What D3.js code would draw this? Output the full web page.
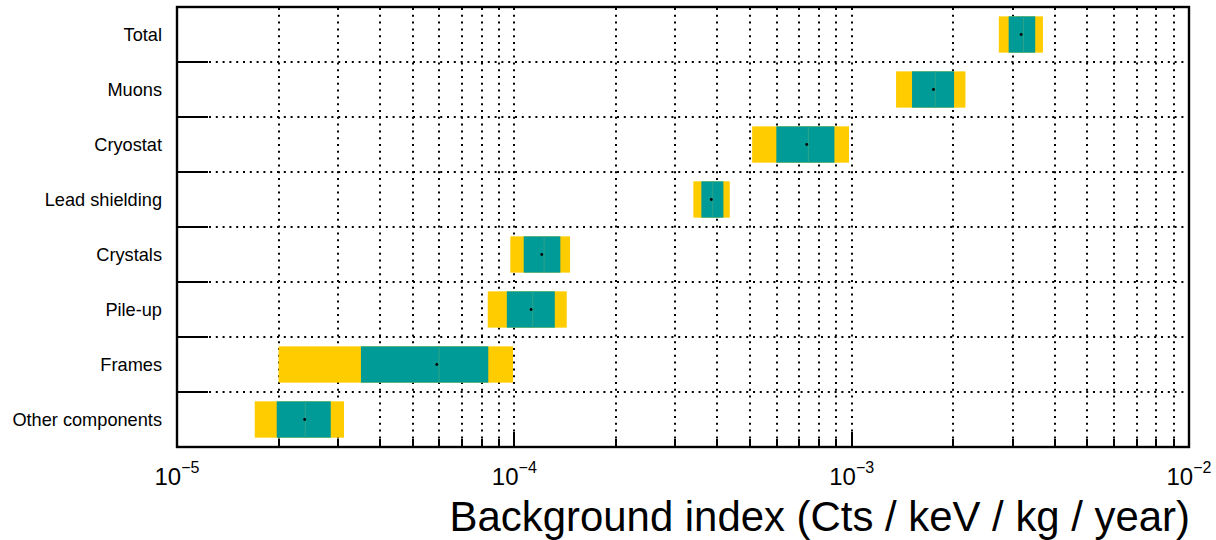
<!DOCTYPE html>
<html>
<head>
<meta charset="utf-8">
<script src="https://cdn.jsdelivr.net/npm/d3@7"></script>
<style>
  html, body { margin: 0; padding: 0; background: #fff; }
  svg { display: block; font-family: "Liberation Sans", Arial, sans-serif; }
</style>
</head>
<body>
<svg id="chart" width="1216" height="540"></svg>
<script>
const categories = ["Total", "Muons", "Cryostat", "Lead shielding", "Crystals", "Pile-up", "Frames", "Other components"];
const outerLow  = [2.73e-3, 1.354e-3, 5.07e-4, 3.395e-4, 9.73e-5, 8.34e-5, 2.00e-5, 1.70e-5];
const innerLow  = [2.92e-3, 1.51e-3, 5.98e-4, 3.585e-4, 1.066e-4, 9.50e-5, 3.51e-5, 1.975e-5];
const medianVal = [3.23e-3, 1.768e-3, 7.44e-4, 3.874e-4, 1.225e-4, 1.134e-4, 5.98e-5, 2.40e-5];
const centralVal= [3.18e-3, 1.748e-3, 7.36e-4, 3.837e-4, 1.206e-4, 1.121e-4, 5.89e-5, 2.39e-5];
const innerHigh = [3.50e-3, 2.012e-3, 8.89e-4, 4.166e-4, 1.369e-4, 1.318e-4, 8.37e-5, 2.856e-5];
const outerHigh = [3.69e-3, 2.174e-3, 9.82e-4, 4.352e-4, 1.463e-4, 1.430e-4, 9.91e-5, 3.127e-5];
const majorTicks = [1e-5, 1e-4, 1e-3, 1e-2];
const majorExponents = ["\u22125", "\u22124", "\u22123", "\u22122"];
const xTitle = "Background index (Cts / keV / kg / year)";

const rows = categories.map((c, i) => ({
  cat: c, oLo: outerLow[i], iLo: innerLow[i], med: medianVal[i], cen: centralVal[i], iHi: innerHigh[i], oHi: outerHigh[i]
}));

const L = 177, R = 1189, T = 7, B = 447;
const svg = d3.select("#chart");
const x = d3.scaleLog().domain([1e-5, 1e-2]).range([L, R]);
const y = d3.scaleBand().domain(categories).range([T, B]).padding(0);
const boxH = y.bandwidth() * 0.66;

const allTicks = x.ticks().filter(t => t > 1e-5 * 1.0001 && t < 1e-2 * 0.9999);
const isMajor = t => Math.abs(Math.log10(t) - Math.round(Math.log10(t))) < 1e-6;
const px = v => Math.round(x(v));

// vertical dotted grid
svg.append("g").selectAll("line").data(allTicks).join("line")
  .attr("x1", d => px(d)).attr("x2", d => px(d))
  .attr("y1", T + 1).attr("y2", B)
  .attr("stroke", "#000").attr("stroke-width", 2)
  .attr("stroke-dasharray", "2,4.8");

// horizontal dotted grid at row boundaries
const bounds = categories.slice(1).map(c => y(c));
svg.append("g").selectAll("line").data(bounds).join("line")
  .attr("x1", L + 32).attr("x2", R)
  .attr("y1", d => d).attr("y2", d => d)
  .attr("stroke", "#000").attr("stroke-width", 2)
  .attr("stroke-dasharray", "2,4.8");

// left category ticks
svg.append("g").selectAll("line").data(bounds).join("line")
  .attr("x1", L).attr("x2", L + 31)
  .attr("y1", d => d).attr("y2", d => d)
  .attr("stroke", "#000").attr("stroke-width", 2);

// boxes
const g = svg.append("g");
const cy = d => y(d.cat) + y.bandwidth() / 2;
g.selectAll("rect.outer").data(rows).join("rect").attr("class", "outer")
  .attr("x", d => x(d.oLo)).attr("width", d => x(d.oHi) - x(d.oLo))
  .attr("y", d => cy(d) - boxH / 2).attr("height", boxH)
  .attr("fill", "#ffcc00");
g.selectAll("rect.inner").data(rows).join("rect").attr("class", "inner")
  .attr("x", d => x(d.iLo)).attr("width", d => x(d.iHi) - x(d.iLo))
  .attr("y", d => cy(d) - boxH / 2).attr("height", boxH)
  .attr("fill", "#009a97");
g.selectAll("line.med").data(rows).join("line").attr("class", "med")
  .attr("x1", d => x(d.med)).attr("x2", d => x(d.med))
  .attr("y1", d => cy(d) - boxH / 2).attr("y2", d => cy(d) + boxH / 2)
  .attr("stroke", "#2fa38a").attr("stroke-width", 1);
g.selectAll("circle").data(rows).join("circle")
  .attr("cx", d => x(d.cen)).attr("cy", d => cy(d)).attr("r", 1.4)
  .attr("fill", "#000");

// bottom axis ticks (inward)
const minorAxis = d3.axisBottom(x).tickValues(allTicks.filter(t => !isMajor(t))).tickSize(-8).tickFormat("");
const majorAxis = d3.axisBottom(x).tickValues(allTicks.filter(t => isMajor(t))).tickSize(-15).tickFormat("");
[minorAxis, majorAxis].forEach(ax => {
  const ag = svg.append("g").attr("transform", `translate(0,${B})`).call(ax);
  ag.select(".domain").remove();
  ag.selectAll(".tick").attr("transform", d => `translate(${px(d)},0)`);
  ag.selectAll(".tick line").attr("stroke", "#000").attr("stroke-width", 2);
});

// frame
svg.append("rect").attr("x", L).attr("y", T).attr("width", R - L).attr("height", B - T)
  .attr("fill", "none").attr("stroke", "#000").attr("stroke-width", 2.4);

// category labels
svg.append("g").selectAll("text").data(categories).join("text")
  .attr("x", 162).attr("y", d => y(d) + y.bandwidth() / 2 + 6)
  .attr("text-anchor", "end").attr("font-size", 18.2).attr("fill", "#000")
  .text(d => d);

// tick labels 10^n
const tl = svg.append("g").selectAll("text").data(majorTicks).join("text")
  .attr("x", d => x(d)).attr("y", 485).attr("text-anchor", "middle")
  .attr("font-size", 24).attr("fill", "#000");
tl.append("tspan").text("10");
tl.append("tspan").attr("dy", -12).attr("font-size", 16).text((d, i) => majorExponents[i]);

// axis title
svg.append("text").attr("x", R + 1).attr("y", 531).attr("text-anchor", "end")
  .attr("font-size", 41.9).attr("fill", "#000").text(xTitle);
</script>
</body>
</html>
